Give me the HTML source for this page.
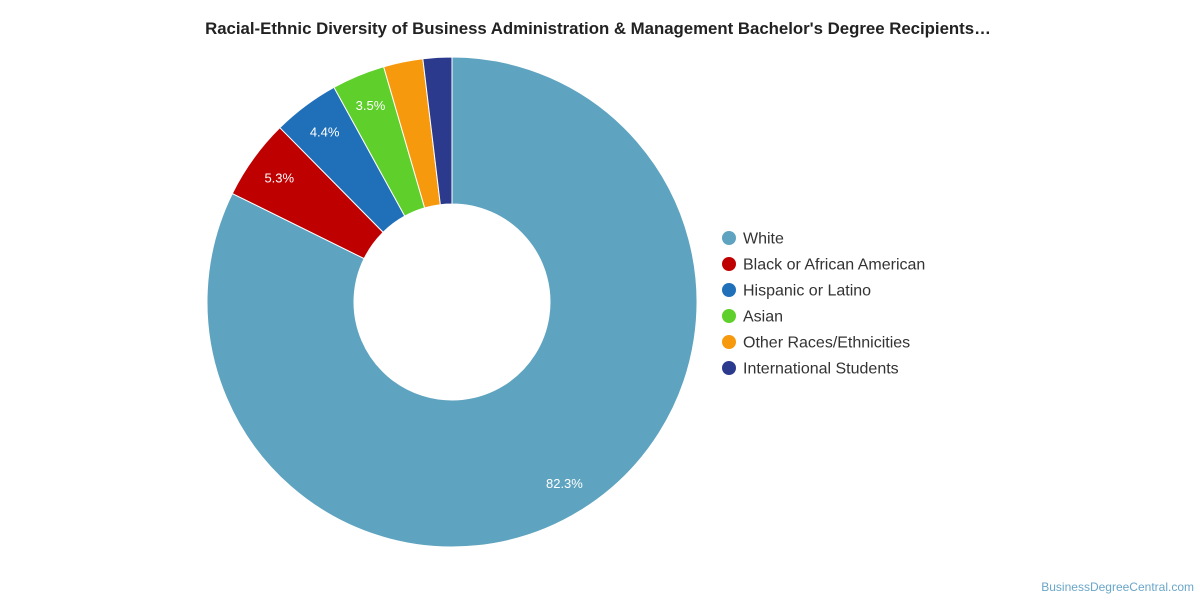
<!DOCTYPE html>
<html><head><meta charset="utf-8"><style>
body{margin:0;background:#fff;font-family:"Liberation Sans",sans-serif;}
#wrap{position:relative;width:1200px;height:600px;overflow:hidden;}
</style></head><body>
<div id="wrap">
<svg id="chart" width="1200" height="600">
<text x="598" y="34" text-anchor="middle" font-size="16.8" font-weight="bold" fill="#222">Racial-Ethnic Diversity of Business Administration &amp; Management Bachelor's Degree Recipients…</text>
<text x="1194" y="591" text-anchor="end" font-size="12" fill="#6aa6c8">BusinessDegreeCentral.com</text>
</svg>
</div>
<script>
const categories=["White","Black or African American","Hispanic or Latino","Asian","Other Races/Ethnicities","International Students"];
const values=[82.3,5.3,4.4,3.5,2.6,1.9];
const labels=["82.3%","5.3%","4.4%","3.5%","",""];
const colors=["#5ea3bf","#bf0000","#2070b9","#5fcf2b","#f7990c","#2c3a8e"];
const svg=document.getElementById('chart');
const NS="http://www.w3.org/2000/svg";
const cx=452,cy=302,R=245,r=98,LR=213;
const total=values.reduce((a,b)=>a+b,0);
function pt(rad,a){return [cx+rad*Math.sin(a),cy-rad*Math.cos(a)];}
let a0=0;
values.forEach((v,i)=>{
  const a1=a0+v/total*2*Math.PI;
  const large=(a1-a0)>Math.PI?1:0;
  const [x0,y0]=pt(R,a0),[x1,y1]=pt(R,a1),[x2,y2]=pt(r,a1),[x3,y3]=pt(r,a0);
  const p=document.createElementNS(NS,'path');
  p.setAttribute('d',`M${x0},${y0}A${R},${R} 0 ${large} 1 ${x1},${y1}L${x2},${y2}A${r},${r} 0 ${large} 0 ${x3},${y3}Z`);
  p.setAttribute('fill',colors[i]);p.setAttribute('stroke','#fff');p.setAttribute('stroke-width','1');
  
  
  svg.appendChild(p);
  if(labels[i]){
    const [lx,ly]=pt(LR,(a0+a1)/2);
    const t=document.createElementNS(NS,'text');
    t.setAttribute('x',lx);t.setAttribute('y',ly+5);t.setAttribute('text-anchor','middle');
    t.setAttribute('font-size','13');t.setAttribute('fill','#fff');t.textContent=labels[i];
    
    
    svg.appendChild(t);
  }
  a0=a1;
});
categories.forEach((c,i)=>{
  const y=238+i*26;
  const g=document.createElementNS(NS,'g');
  
  
  const ci=document.createElementNS(NS,'circle');
  ci.setAttribute('cx',729);ci.setAttribute('cy',y);ci.setAttribute('r',7);ci.setAttribute('fill',colors[i]);
  const t=document.createElementNS(NS,'text');
  t.setAttribute('x',743);t.setAttribute('y',y+5.5);t.setAttribute('font-size','16');t.setAttribute('fill','#333');t.textContent=c;
  g.appendChild(ci);g.appendChild(t);svg.appendChild(g);
});
</script>
</body></html>
